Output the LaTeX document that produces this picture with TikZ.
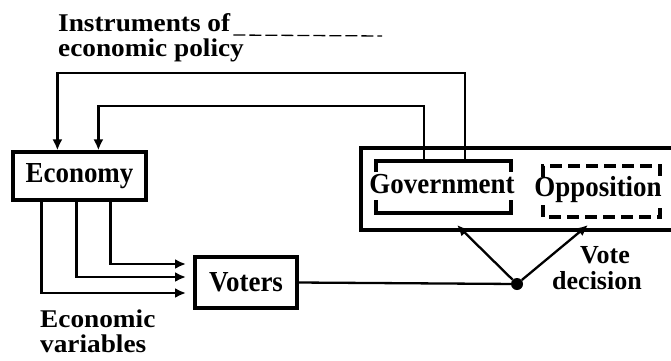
\documentclass[tikz,border=0pt]{standalone}
\usepackage{fontspec}
\setmainfont{Liberation Serif}
\newfontfamily\annf[FakeStretch=1.07]{Liberation Serif}
\newfontfamily\boxf[FakeStretch=0.93]{Liberation Serif}
\usetikzlibrary{arrows.meta}
\tikzset{
  boxline/.style={line width=3.2pt},
  conn/.style={line width=2.3pt},
  arr/.style={conn,-{Latex[length=11pt,width=10pt]}},
  lbl/.style={inner sep=0pt,font=\boxf\bfseries\fontsize{29}{31}\selectfont},
  ann/.style={inner sep=0pt,font=\annf\bfseries\fontsize{25.5}{27}\selectfont},
  vote/.style={inner sep=0pt,font=\bfseries\fontsize{26}{28}\selectfont},
  boxnode/.style={draw,boxline,inner sep=0pt,font=\boxf\bfseries\fontsize{29}{31}\selectfont}
}
\begin{document}
\begin{tikzpicture}[x=1pt,y=-1pt]
\useasboundingbox (0,0) rectangle (671,360);
% labels
\node[ann,anchor=base west] (instr1) at (58,31) {Instruments of};
\node[ann,anchor=base west] (instr2) at (58,56) {economic policy};
\coordinate (lead) at (382,36);
\draw[line width=1.3pt,dash pattern=on 12pt off 4pt] ([xshift=3pt,yshift=-4pt]instr1.base east) -- (lead);
\node[ann,anchor=base west] (ev1) at (40,327) {Economic};
\node[ann,anchor=base west] (ev2) at (40,352) {variables};
\node[vote,anchor=base] (vd1) at (605,263) {Vote};
\node[vote,anchor=base] (vd2) at (597,289) {decision};
% boxes
\node[boxnode,minimum width=133pt,minimum height=48pt] (econ) at (79.5,176) {Economy};
\node[boxnode,minimum width=102pt,minimum height=51pt] (voters) at (246,282.5) {Voters};
% outer region (open on the right)
\draw[boxline] (672,148) -- (361,148) -- (361,230) -- (672,230);
% Government bracket
\coordinate (gnw) at (376,161);
\coordinate (gse) at (511,213);
\draw[boxline] ([yshift=-11pt]gnw) -- (gnw) -- (gnw -| gse) -- ([yshift=-11pt]gnw -| gse);
\draw[boxline] ([yshift=13pt]gse -| gnw) -- (gse -| gnw) -- (gse) -- ([yshift=13pt]gse);
\node[lbl,anchor=base] (gov) at (442,193) {Government};
% Opposition dashed bracket
\coordinate (onw) at (543,166);
\coordinate (ose) at (660,217);
\draw[boxline,dash pattern=on 12pt off 6pt] ([yshift=-11pt]onw) -- (onw) -- (onw -| ose) -- ([yshift=-11pt]onw -| ose);
\draw[boxline,dash pattern=on 12pt off 6pt] ([yshift=12pt]ose -| onw) -- (ose -| onw) -- (ose) -- ([yshift=12pt]ose);
\node[lbl,anchor=base] (opp) at (598,196) {Opposition};
% feedback from government to economy
\coordinate (gA) at (424,161);
\coordinate (gB) at (465,161);
\draw[arr] (gB) -- (465,73) -| ([xshift=46pt]econ.north west);
\draw[arr] (gA) -- (424,106) -| ([xshift=87pt]econ.north west);
% economic variables to voters
\coordinate (v1) at (186,264);
\coordinate (v2) at (186,277);
\coordinate (v3) at (186,293);
\draw[arr] ([xshift=99pt]econ.south west) |- (v1);
\draw[arr] ([xshift=65pt]econ.south west) |- (v2);
\draw[arr] ([xshift=30pt]econ.south west) |- (v3);
% vote decision
\node[circle,fill=black,inner sep=0pt,minimum size=12pt] (dot) at (517,284) {};
\draw[conn] (voters.east) -- (dot);
\coordinate (gin) at (457,225);
\coordinate (oin) at (588,225);
\draw[arr] (dot) -- (gin);
\draw[arr] (dot) -- (oin);
\end{tikzpicture}
\end{document}
